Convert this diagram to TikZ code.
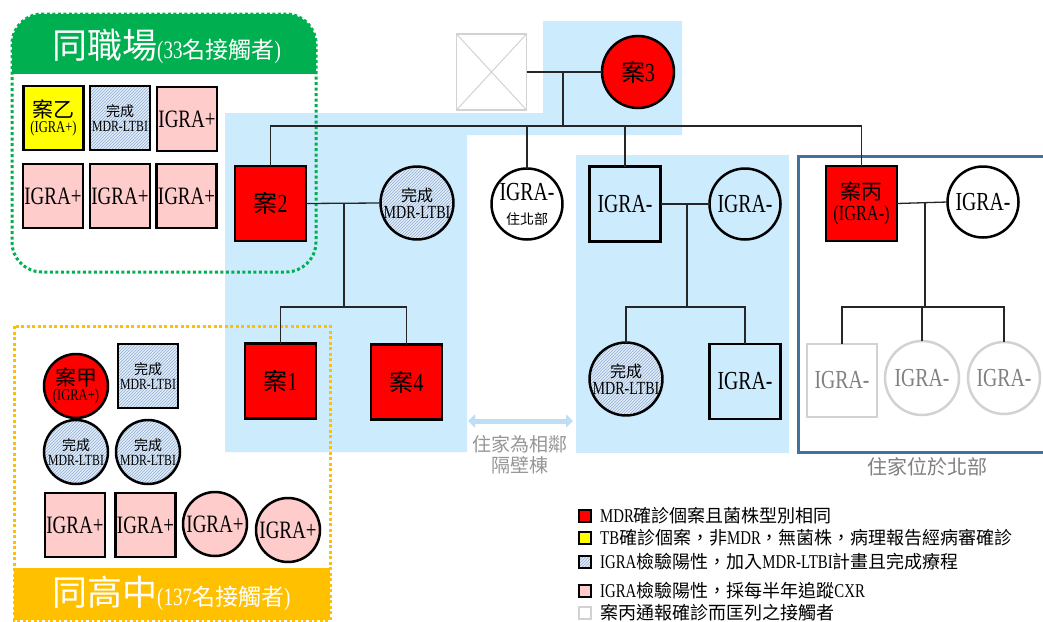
\documentclass[tikz,border=0pt]{standalone}
\usepackage{fontspec}
\setmainfont{Liberation Serif}[FakeStretch=0.76]
\newfontfamily\cjk{Noto Sans CJK TC}
\usetikzlibrary{patterns,arrows.meta}
\newcommand\zh[1]{{\cjk #1}}
\newcommand\setfs[1]{\fontsize{#1}{#1}\selectfont}
\definecolor{pedred}{RGB}{255,0,0}
\definecolor{pedyel}{RGB}{255,255,0}
\definecolor{pedpink}{RGB}{255,204,204}
\definecolor{hbg}{RGB}{225,237,248}
\definecolor{hline}{RGB}{145,172,210}
\definecolor{famblue}{RGB}{204,235,252}
\definecolor{grnbox}{RGB}{0,176,80}
\definecolor{orgbox}{RGB}{255,192,0}
\definecolor{steel}{RGB}{65,113,156}
\definecolor{gline}{RGB}{210,210,210}
\definecolor{gtext}{RGB}{128,128,128}
\definecolor{labgray}{RGB}{150,150,150}
\definecolor{arrblue}{RGB}{190,222,245}
\tikzset{
  pnode/.style={line width=2.5pt, draw=black, inner sep=0pt, outer sep=0pt, align=center, font=\setfs{26}},
  psq/.style={pnode, rectangle, minimum width=71pt, minimum height=75pt},
  pci/.style={pnode, circle, minimum size=71pt},
  ssq/.style={pnode, rectangle, minimum width=60pt, minimum height=64pt, font=\setfs{25}},
  sci/.style={pnode, circle, minimum size=64pt, font=\setfs{25}},
  hatch/.style={preaction={fill=hbg}, pattern=north east lines, pattern color=hline},
  graynode/.style={draw=gline, text=gtext, fill=white},
  link/.style={line width=1.3pt, draw=black!85},
  dotbox/.style={line width=3pt, dash pattern=on 3pt off 2.5pt},
  legbox/.style={draw=black, line width=1.6pt, minimum width=12pt, minimum height=12pt, inner sep=0pt},
  legtext/.style={anchor=west, inner sep=0pt, font=\setfs{19.5}},
  smalltxt/.style={font=\setfs{15.5}},
  midtxt/.style={font=\setfs{18.5}},
  casetxt/.style={font=\setfs{16.5}},
}
\begin{document}
\begin{tikzpicture}[x=1pt,y=-1pt]
\useasboundingbox (0,0) rectangle (1043,621);
\fill[white] (0,0) rectangle (1043,621);
% family background regions
\fill[famblue] (225,113) -- (543,113) -- (543,21) -- (682,21) -- (682,135) -- (467,135) -- (467,452) -- (225,452) -- cycle;
\fill[famblue] (576,155) rectangle (789,453);
% green box
\begin{scope}
  \clip (0,0) rectangle (330,73);
  \fill[grnbox, rounded corners=30pt] (12,14) rectangle (316,272);
\end{scope}
\draw[grnbox, dotbox, rounded corners=30pt] (12,14) rectangle (316,272);
\node[anchor=west, text=white, inner sep=0pt] (titleA) at (52,46) {\setfs{35}\zh{同職場}\setfs{25}(33\zh{\setfs{23}名接觸者})};
% orange box
\fill[orgbox] (14,568) rectangle (330,620);
\draw[orgbox, dotbox] (14,326) rectangle (330,620);
\node[anchor=west, text=white, inner sep=0pt] (titleB) at (52,593) {\setfs{35}\zh{同高中}\setfs{25}(137\zh{\setfs{23}名接觸者})};
% steel box
\draw[steel, line width=3pt] (1046,156) -- (798,156) -- (798,452) -- (1046,452);
\node[text=gtext, font=\setfs{20}, inner sep=0pt] (northlab) at (927,467) {\zh{住家位於北部}};
% neighbour arrow
\coordinate (al) at (468,421);
\coordinate (ar) at (573,421);
\draw[arrblue, line width=5pt, {Triangle[width=13pt,length=7pt]}-{Triangle[width=13pt,length=7pt]}] (al) -- (ar);
\node[text=labgray, font=\setfs{19}, align=center, inner sep=0pt] (neighlab) at (520,455) {\zh{住家為相鄰}\\[2pt]\zh{隔壁棟}};

% pedigree nodes
\node[psq, graynode, line width=1.8pt, minimum width=70pt, minimum height=76pt] (gf) at (491.5,72) {};
\draw[gline, line width=1pt] (gf.north west) -- (gf.south east) (gf.north east) -- (gf.south west);
\node[pci, fill=pedred, minimum size=72pt] (c3) at (638,72) {\zh{\setfs{24}案}3};
\node[psq, fill=pedred] (c2) at (270.5,203.5) {\zh{\setfs{24}案}2};
\node[pci, hatch, midtxt] (sp2) at (417,203) {\setfs{16}\zh{完成}\\[-2pt]MDR-LTBI};
\node[psq, fill=pedred] (c1) at (280.5,381) {\zh{\setfs{24}案}1};
\node[psq, fill=pedred] (c4) at (406.5,382) {\zh{\setfs{24}案}4};
\node[pci, fill=white] (n1) at (527,204) {IGRA-\\[-2pt]\setfs{14}\zh{住北部}};
\node[psq, fill=famblue] (n2) at (625,204) {IGRA-};
\node[pci, fill=famblue] (n3) at (745,204) {IGRA-};
\node[pci, hatch, midtxt] (n4) at (626,379) {\setfs{16}\zh{完成}\\[-2pt]MDR-LTBI};
\node[psq, fill=famblue] (n5) at (745,381.5) {IGRA-};
\node[psq, fill=pedred, font=\setfs{21.5}] (cb) at (861.5,203.5) {\setfs{21}\zh{案丙}\\[-1pt](IGRA-)};
\node[pci, fill=white] (n6) at (983,202) {IGRA-};
\node[psq, graynode, minimum width=70pt, minimum height=73pt] (g1) at (842,380.5) {IGRA-};
\node[pci, graynode, minimum size=74pt] (g2) at (922,378) {IGRA-};
\node[pci, graynode, minimum size=72pt] (g3) at (1004,378) {IGRA-};

% junctions
\coordinate (m3) at (563,72);
\coordinate (s1) at (563,126);
\coordinate (m2) at (344,203);
\coordinate (k2) at (344,307);
\coordinate (m5) at (687,204);
\coordinate (k5) at (687,307);
\coordinate (m6) at (925,202);
\coordinate (k6) at (925,307);

% connectors
\draw[link] (gf.east) -- (c3.west);
\draw[link] (m3) -- (s1);
\draw[link] (c2.north) -- (c2.north |- s1) -- (cb.north |- s1) -- (cb.north);
\draw[link] (n1.north) -- (n1.north |- s1);
\draw[link] (n2.north) -- (n2.north |- s1);
\draw[link] (c2.east) -- (sp2.west);
\draw[link] (m2) -- (k2);
\draw[link] (c1.north) -- (c1.north |- k2) -- (c4.north |- k2) -- (c4.north);
\draw[link] (n2.east) -- (n3.west);
\draw[link] (m5) -- (k5);
\draw[link] (n4.north) -- (n4.north |- k5) -- (n5.north |- k5) -- (n5.north);
\draw[link] (cb.east) -- (n6.west);
\draw[link] (m6) -- (k6);
\draw[link] (g1.north) -- (g1.north |- k6) -- (g3.north |- k6) -- (g3.north);
\draw[link] (g2.north) -- (g2.north |- k6);

% workplace contacts
\node[ssq, fill=pedyel, casetxt] (w1) at (53.5,118) {\setfs{21}\zh{案乙}\\[-1pt](IGRA+)};
\node[ssq, hatch, smalltxt] (w2) at (120,118) {\setfs{14}\zh{完成}\\[-1pt]MDR-LTBI};
\node[ssq, fill=pedpink] (w3) at (187,119) {IGRA+};
\node[ssq, fill=pedpink] (w4) at (53,196) {IGRA+};
\node[ssq, fill=pedpink] (w5) at (120,196) {IGRA+};
\node[ssq, fill=pedpink] (w6) at (186.5,196) {IGRA+};

% school contacts
\node[sci, fill=pedred, casetxt] (h1) at (76,386) {\setfs{21}\zh{案甲}\\[-1pt](IGRA+)};
\node[ssq, hatch, smalltxt] (h2) at (148,376) {\setfs{14}\zh{完成}\\[-1pt]MDR-LTBI};
\node[sci, hatch, smalltxt] (h3) at (76,452) {\setfs{14}\zh{完成}\\[-1pt]MDR-LTBI};
\node[sci, hatch, smalltxt] (h4) at (148,452) {\setfs{14}\zh{完成}\\[-1pt]MDR-LTBI};
\node[ssq, fill=pedpink] (h5) at (75,525) {IGRA+};
\node[ssq, fill=pedpink] (h6) at (145.5,525) {IGRA+};
\node[sci, fill=pedpink] (h7) at (215,524) {IGRA+};
\node[sci, fill=pedpink] (h8) at (288,530) {IGRA+};

% legend
\node[legbox, fill=pedred] (lb1) at (585,516) {};
\node[legtext] (lt1) at (600,516) {MDR\zh{\setfs{18}確診個案且菌株型別相同}};
\node[legbox, fill=pedyel] (lb2) at (585,538) {};
\node[legtext] (lt2) at (600,538) {TB\zh{\setfs{18}確診個案，非}MDR\zh{\setfs{18}，無菌株，病理報告經病審確診}};
\node[legbox, hatch] (lb3) at (585,562) {};
\node[legtext] (lt3) at (600,562) {IGRA\zh{\setfs{18}檢驗陽性，加入}MDR-LTBI\zh{\setfs{18}計畫且完成療程}};
\node[legbox, fill=pedpink] (lb4) at (585,591) {};
\node[legtext] (lt4) at (600,591) {IGRA\zh{\setfs{18}檢驗陽性，採每半年追蹤}CXR};
\node[legbox, draw=gline, fill=white] (lb5) at (585,613) {};
\node[legtext] (lt5) at (600,613) {\zh{\setfs{18}案丙通報確診而匡列之接觸者}};
\end{tikzpicture}
\end{document}
